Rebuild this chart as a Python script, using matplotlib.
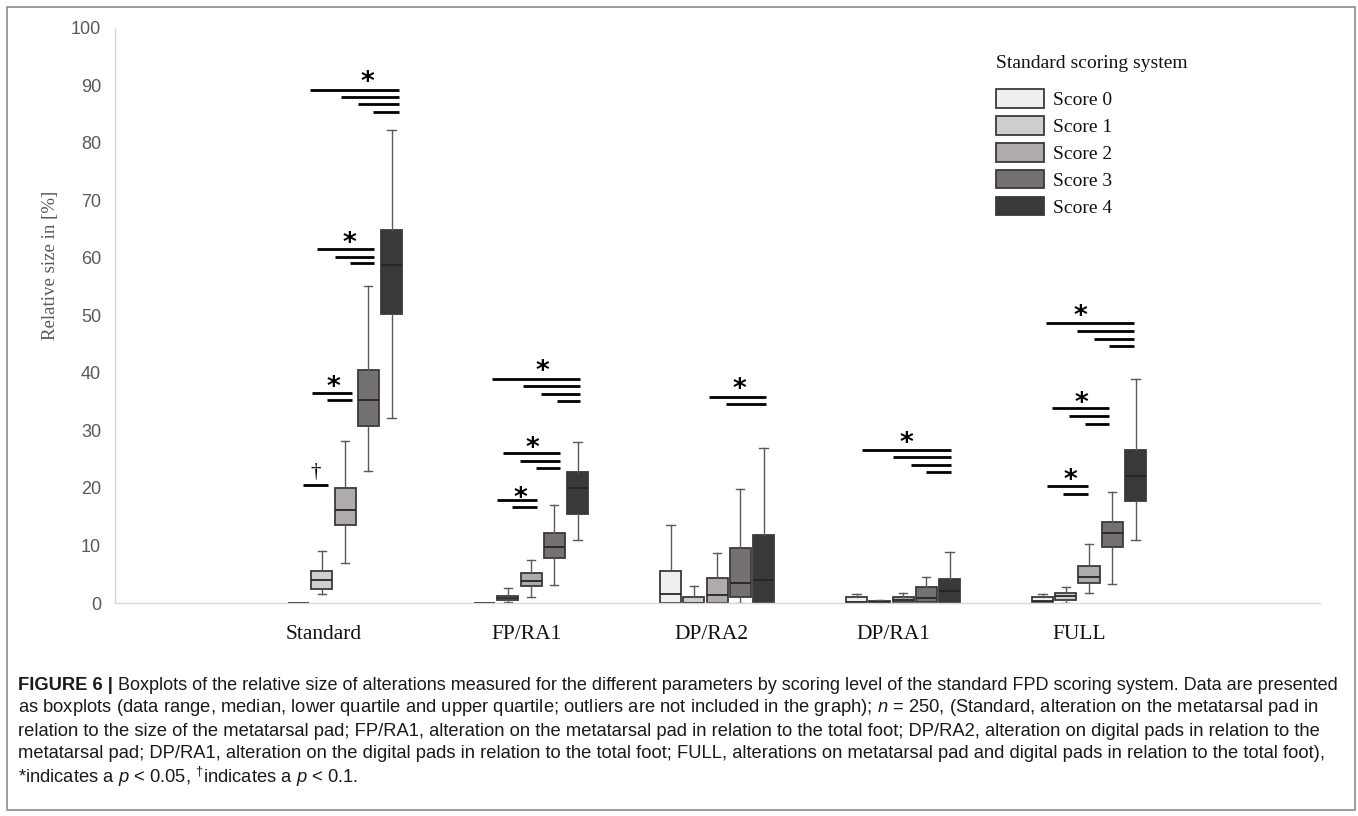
import matplotlib
matplotlib.use('Agg')
import matplotlib.pyplot as plt
from matplotlib.patches import Patch, Rectangle

plt.rcParams['mathtext.fontset'] = 'custom'
plt.rcParams['mathtext.rm'] = 'Liberation Sans'
plt.rcParams['mathtext.it'] = 'Liberation Sans:italic'

categories = ['Standard', 'FP/RA1', 'DP/RA2', 'DP/RA1', 'FULL']
label_pos = [-0.113, 0.978, 1.968, 2.946, 3.946]
score_names = ['Score 0', 'Score 1', 'Score 2', 'Score 3', 'Score 4']
score_colors = ['#efefef', '#d0cfcf', '#afabab', '#767171', '#3b3838']

# whislo, q1, median, q3, whishi  per score (0..4)
standard_stats = [[0, 0, 0, 0, 0],
                  [1.6, 2.4, 4.0, 5.5, 9.1],
                  [7.0, 13.6, 16.2, 19.9, 28.2],
                  [23.0, 30.8, 35.3, 40.5, 55.1],
                  [32.2, 50.3, 58.8, 64.9, 82.2]]
fpra1_stats = [[0, 0, 0, 0, 0],
               [0.2, 0.5, 0.9, 1.3, 2.6],
               [1.0, 2.9, 3.8, 5.2, 7.5],
               [3.1, 7.9, 9.8, 12.1, 17.1],
               [11.0, 15.4, 20.0, 22.8, 27.9]]
dpra2_stats = [[0, 0, 1.6, 5.6, 13.6],
               [0, 0, 0, 1.1, 3.0],
               [0, 0, 1.4, 4.3, 8.7],
               [0, 1.1, 3.4, 9.6, 19.8],
               [0, 0, 4.0, 11.8, 27.0]]
dpra1_stats = [[0, 0, 0.2, 1.0, 1.5],
               [0, 0, 0.1, 0.35, 0.6],
               [0, 0.1, 0.5, 1.1, 1.7],
               [0, 0.2, 0.9, 2.7, 4.6],
               [0, 0, 2.0, 4.2, 8.8]]
full_stats = [[0, 0.15, 0.4, 1.0, 1.5],
              [0.05, 0.6, 1.2, 1.7, 2.7],
              [1.8, 3.5, 4.6, 6.4, 10.3],
              [3.3, 9.7, 12.1, 14.1, 19.3],
              [11.0, 17.8, 22.1, 26.6, 38.9]]
all_stats = [standard_stats, fpra1_stats, dpra2_stats, dpra1_stats, full_stats]

# significance marks: symbol, symbol x/y, line heights, line starts, common line end
sig_symbol = ['*', '*', '*', '†', '*', '*', '*', '*', '*', '*', '*', '*']
sig_sym_x = [0.118, 0.022, -0.065, -0.156, 1.059, 1.005, 0.941, 2.118, 3.016, 3.952, 3.957, 3.898]
sig_sym_y = [91.7, 63.8, 38.7, 22.8, 41.6, 28.2, 19.4, 38.4, 29.0, 51.1, 36.0, 22.6]
sig_line_y = [[89.2, 87.9, 86.7, 85.4], [61.5, 60.2, 59.0], [36.5, 35.3], [20.5],
              [39.0, 37.7, 36.4, 35.1], [26.0, 24.7, 23.4], [17.9, 16.6],
              [35.8, 34.5], [26.5, 25.3, 23.9, 22.7],
              [48.6, 47.2, 45.9, 44.6], [33.9, 32.5, 31.1], [20.3, 19.0]]
sig_line_x0 = [[-0.188, -0.022, 0.070, 0.151], [-0.151, -0.054, 0.027], [-0.177, -0.097], [-0.226],
               [0.790, 0.957, 1.054, 1.140], [0.849, 0.941, 1.027], [0.817, 0.898],
               [1.957, 2.048], [2.780, 2.946, 3.043, 3.124],
               [3.769, 3.935, 4.027, 4.108], [3.801, 3.892, 3.978], [3.774, 3.860]]
sig_line_x1 = [0.290, 0.156, 0.038, -0.091, 1.263, 1.156, 1.032, 2.263, 3.258, 4.242, 4.108, 3.995]

W, H = 1358, 816
fig = plt.figure(figsize=(W / 100, H / 100), dpi=100)
ax = fig.add_axes([115 / W, 1 - 603 / H, (1320 - 115) / W, (603 - 27.5) / H])

offsets = [-0.25, -0.125, 0, 0.125, 0.25]
for g, group in enumerate(all_stats):
    for s, st in enumerate(group):
        stats = [dict(whislo=st[0], q1=st[1], med=st[2], q3=st[3], whishi=st[4], fliers=[])]
        edge = '#9a9a9a' if max(st) == 0 else '#3a3a3a'
        ax.bxp(stats, positions=[g + offsets[s]], widths=0.113, patch_artist=True,
               showfliers=False, capwidths=0.045, manage_ticks=False,
               boxprops=dict(facecolor=score_colors[s], edgecolor=edge, linewidth=1.3),
               medianprops=dict(color='#262626', linewidth=1.3),
               whiskerprops=dict(color='#595959', linewidth=1.0),
               capprops=dict(color='#595959', linewidth=1.0))

for i in range(len(sig_symbol)):
    for y, x0 in zip(sig_line_y[i], sig_line_x0[i]):
        ax.plot([x0, sig_line_x1[i]], [y, y], color='black', lw=2.0, solid_capstyle='butt')
    if sig_symbol[i] == '*':
        ax.annotate('*', (sig_sym_x[i], sig_sym_y[i]), xytext=(0, -0.565 * 19),
                    textcoords='offset points', ha='center', va='baseline',
                    fontsize=19, fontweight='bold', family='DejaVu Sans')
    else:
        ax.annotate(sig_symbol[i], (sig_sym_x[i], sig_sym_y[i]), xytext=(0, -0.27 * 15),
                    textcoords='offset points', ha='center', va='baseline',
                    fontsize=15, family='Liberation Serif')

ax.set_xlim(-1.237, 5.242)
ax.set_ylim(0, 100)
ax.set_yticks(range(0, 101, 10))
ax.set_xticks(label_pos)
ax.set_xticklabels(categories, family='Liberation Serif', fontsize=15.5, color='#111111')
ax.tick_params(axis='x', length=0, pad=16)
ax.tick_params(axis='y', length=0, pad=10, labelsize=13, labelcolor='#595959')
for lab in ax.get_yticklabels():
    lab.set_family('Liberation Sans')
for side in ['top', 'right']:
    ax.spines[side].set_visible(False)
for side in ['left', 'bottom']:
    ax.spines[side].set_color('#d9d9d9')
    ax.spines[side].set_linewidth(1.0)
ax.set_ylabel('Relative size in [%]', family='Liberation Serif', fontsize=13.6, color='#595959')
ax.yaxis.set_label_coords(-0.0465, 0.587)

# legend: title as its own text so the gap above the entries can match
fig.text(996 / W, 1 - 64 / H, 'Standard scoring system', family='Liberation Serif',
         fontsize=14, color='#111111', ha='left', va='center')
handles = [Patch(facecolor=c, edgecolor='#3a3a3a', linewidth=1.3) for c in score_colors]
leg = ax.legend(handles, score_names, loc='upper left',
                bbox_to_anchor=(996 / W, 1 - 89 / H), bbox_transform=fig.transFigure,
                frameon=False, prop=dict(family='Liberation Serif', size=14),
                handlelength=2.45, handleheight=1.1, labelspacing=0.36,
                handletextpad=0.5, borderpad=0, borderaxespad=0)
for t in leg.get_texts():
    t.set_color('#111111')

# frame around figure and caption
fig.patches.append(Rectangle((7 / W, 6 / H), (1355 - 7) / W, (H - 13) / H, transform=fig.transFigure,
                             fill=False, edgecolor='#8c8c8c', linewidth=1.2))

cap_font = 'Liberation Sans'
cap_size = 13.2
cap_lines = [
    'Boxplots of the relative size of alterations measured for the different parameters by scoring level of the standard FPD scoring system. Data are presented',
    'as boxplots (data range, median, lower quartile and upper quartile; outliers are not included in the graph); $n$ = 250, (Standard, alteration on the metatarsal pad in',
    'relation to the size of the metatarsal pad; FP/RA1, alteration on the metatarsal pad in relation to the total foot; DP/RA2, alteration on digital pads in relation to the',
    'metatarsal pad; DP/RA1, alteration on the digital pads in relation to the total foot; FULL, alterations on metatarsal pad and digital pads in relation to the total foot),',
    '*indicates a $p$ < 0.05, $^{\\dagger}$indicates a $p$ < 0.1.',
]
cap_y = [686, 708, 731, 754, 777]
head = fig.text(18 / W, 1 - cap_y[0] / H, 'FIGURE 6 |', family=cap_font, fontsize=cap_size,
                fontweight='bold', va='center', ha='left', color='#1a1a1a')
fig.canvas.draw()
renderer = fig.canvas.get_renderer()
head_end = head.get_window_extent(renderer).x1
for k, line in enumerate(cap_lines):
    x0 = head_end + 5 if k == 0 else 18
    t = fig.text(x0 / W, 1 - cap_y[k] / H, line, family=cap_font, fontsize=cap_size,
                 va='center', ha='left', color='#1a1a1a')
    if k == 0:
        # first line is justified to the same right edge as the reference
        w = t.get_window_extent(renderer).width
        t.set_fontsize(cap_size * (1340 - x0) / w)

fig.savefig('out.png', dpi=100)
